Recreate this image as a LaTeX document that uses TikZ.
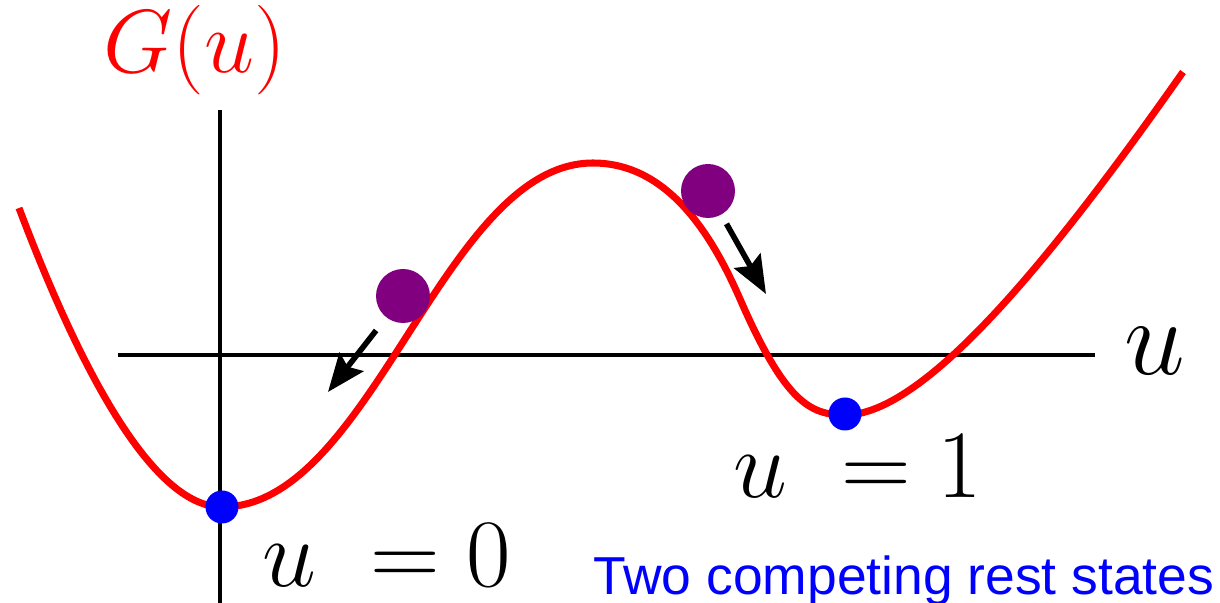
\RequirePackage{fix-cm}
\documentclass[tikz,border=0pt]{standalone}
\usepackage{fontspec}
\newfontfamily\notefont{Liberation Sans}
\usetikzlibrary{arrows.meta,positioning}
\definecolor{ballpurple}{RGB}{128,0,128}

\begin{document}
\begin{tikzpicture}[
    axis/.style={line width=0.9pt},
    potential/.style={red, line width=2pt},
    rest/.style={circle, fill=blue, inner sep=0pt, minimum size=0.33cm},
    ball/.style={circle, fill=ballpurple, inner sep=0pt, minimum size=0.54cm},
    push/.style={-{Stealth[length=0.38cm, width=0.3cm, inset=0.06cm]}, line width=1.6pt},
    bigmath/.style={font=\fontsize{27.5}{32}\selectfont, inner sep=0pt, anchor=base}
  ]
    \useasboundingbox (0,0) rectangle (12.2,6.03);

    % axes
    \draw[axis] (2.20,0) -- (2.20,4.93);
    \draw[axis] (1.18,2.48) -- (10.95,2.48);

    % double well
    \draw[potential] (0.19,3.95) .. controls (0.79,2.36) and (1.52,0.96) .. (2.22,0.96)
      .. controls (3.72,0.96) and (4.43,4.40) .. (5.93,4.40)
      .. controls (6.68,4.40) and (7.12,3.68) .. (7.40,3.04)
      .. controls (7.85,2.01) and (8.10,1.88) .. (8.45,1.88)
      .. controls (9.25,1.88) and (10.53,3.46) .. (11.83,5.31);

    \node[rest] (zero) at (2.22,0.96) {};
    \node[rest] (one) at (8.45,1.89) {};
    \node[ball] (left) at (4.03,3.07) {};
    \node[ball] (right) at (7.08,4.12) {};
    \coordinate (lefttip) at (3.28,2.11);
    \coordinate (righttip) at (7.66,3.09);

    \draw[push, shorten <=0.16cm] (left) -- (lefttip);
    \draw[push, shorten <=0.1cm] (right) -- (righttip);

    \node[bigmath, red, font=\fontsize{25.5}{29}\selectfont] (Glabel) at (1.95,5.30) {$G(u)$};
    \node[bigmath, font=\fontsize{31}{35}\selectfont] (ulabel) at (11.55,2.28) {$u$};
    \node[bigmath] (zerolabel) at (3.87,0.16) {$u\;=0$};
    \node[bigmath] (onelabel) at (8.58,1.05) {$u\;=1$};
    \node[blue, font=\notefont\fontsize{15.2}{18}\selectfont, inner sep=0pt, anchor=base west]
      (note) at (5.93,0.08) {Two competing rest states};
  \end{tikzpicture}
\end{document}
